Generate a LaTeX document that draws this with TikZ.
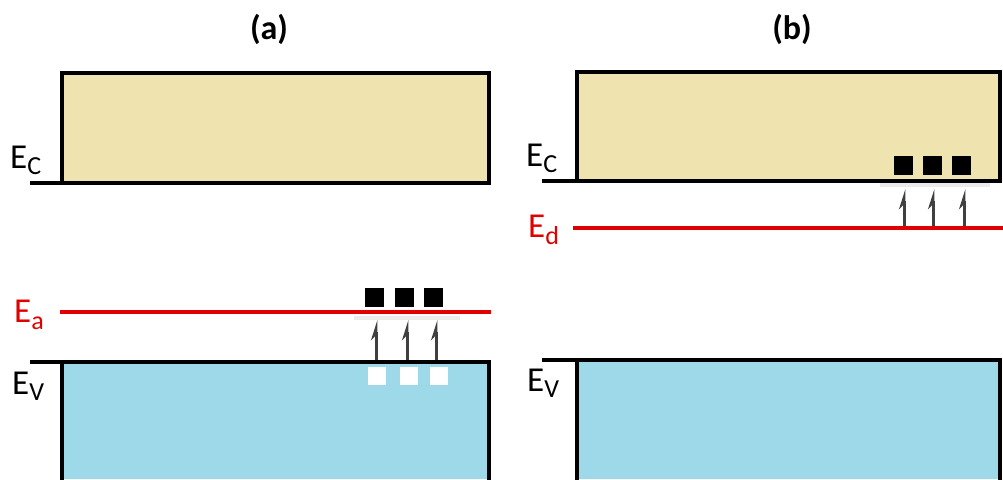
\documentclass[tikz,border=0pt]{standalone}
\usepackage{fontspec}
\setmainfont{Carlito}
\usetikzlibrary{arrows.meta}
\definecolor{cband}{HTML}{EFE3B0}
\definecolor{vband}{HTML}{9DD9E8}
\definecolor{lvl}{HTML}{E00000}
\begin{document}
\begin{tikzpicture}[x=1pt,y=-1pt,
  band/.style={draw=black,line width=4pt},
  edge/.style={draw=black,line width=4pt},
  level/.style={draw=lvl,line width=3.5pt},
  carrier/.style={fill=black,minimum size=19pt,inner sep=0pt},
  hole/.style={fill=white,minimum size=18pt,inner sep=0pt},
  excite/.style={draw=black!75,line width=3pt,-{Stealth[length=16pt,width=10pt,left]}},
  shade/.style={fill=black!8,draw=none},
  lab/.style={font=\fontsize{35}{37}\selectfont, inner sep=0pt},
  tit/.style={font=\bfseries\fontsize{34}{36}\selectfont, inner sep=0pt}]
\useasboundingbox (0,0) rectangle (1003,479);
% panel (a)
\node[tit] (ta) at (269,29) {(a)};
\fill[cband] (62,73) rectangle (489,183);
\draw[band] (62,183) -- (62,73) -- (489,73) -- (489,183);
\coordinate (ca0) at (30,183); \coordinate (ca1) at (491,183);
\draw[edge] (ca0) -- (ca1);
\node[lab,anchor=west] (eca) at (10,160) {E\raisebox{-6pt}{\fontsize{26}{28}\selectfont C}};
\fill[vband] (62,362) rectangle (489,479);
\draw[band] (62,481) -- (62,362) -- (489,362) -- (489,481);
\coordinate (va0) at (30,362); \coordinate (va1) at (491,362);
\draw[edge] (va0) -- (va1);
\node[lab,anchor=west] (eva) at (12,386) {E\raisebox{-6pt}{\fontsize{26}{28}\selectfont V}};
\coordinate (la0) at (60,312); \coordinate (la1) at (491,312);
\draw[level] (la0) -- (la1);
\node[lab,anchor=west,text=lvl] (eaa) at (14,315) {E\raisebox{-7pt}{\fontsize{26}{28}\selectfont a}};
\fill[shade] (354,316) rectangle (460,320);
\node[carrier] (a1) at (374,297) {};
\node[carrier] (a2) at (404,297) {};
\node[carrier] (a3) at (433,297) {};
\node[hole] (h1) at (377,376) {};
\node[hole] (h2) at (409,376) {};
\node[hole] (h3) at (439,376) {};
\coordinate (p1) at (376,360); \coordinate (q1) at (376,320);
\coordinate (p2) at (407,360); \coordinate (q2) at (407,320);
\coordinate (p3) at (436,360); \coordinate (q3) at (436,320);
\draw[excite] (p1) -- (q1);
\draw[excite] (p2) -- (q2);
\draw[excite] (p3) -- (q3);
% panel (b)
\node[tit] (tb) at (792,29) {(b)};
\fill[cband] (577,72) rectangle (1000,181);
\draw[band] (577,181) -- (577,72) -- (1000,72) -- (1000,181);
\coordinate (cb0) at (542,181); \coordinate (cb1) at (1002,181);
\draw[edge] (cb0) -- (cb1);
\node[lab,anchor=west] (ecb) at (526,158) {E\raisebox{-6pt}{\fontsize{26}{28}\selectfont C}};
\fill[vband] (577,360) rectangle (1000,479);
\draw[band] (577,481) -- (577,360) -- (1000,360) -- (1000,481);
\coordinate (vb0) at (542,360); \coordinate (vb1) at (1002,360);
\draw[edge] (vb0) -- (vb1);
\node[lab,anchor=west] (evb) at (527,383) {E\raisebox{-6pt}{\fontsize{26}{28}\selectfont V}};
\coordinate (lb0) at (573,228); \coordinate (lb1) at (1003,228);
\draw[level] (lb0) -- (lb1);
\node[lab,anchor=west,text=lvl] (edb) at (528,230) {E\raisebox{-7pt}{\fontsize{26}{28}\selectfont d}};
\fill[shade] (880,183) rectangle (990,187);
\node[carrier] (b1) at (903,165) {};
\node[carrier] (b2) at (932,165) {};
\node[carrier] (b3) at (961,165) {};
\coordinate (r1) at (904,226); \coordinate (s1) at (904,189);
\coordinate (r2) at (933,226); \coordinate (s2) at (933,189);
\coordinate (r3) at (964,226); \coordinate (s3) at (964,189);
\draw[excite] (r1) -- (s1);
\draw[excite] (r2) -- (s2);
\draw[excite] (r3) -- (s3);
\end{tikzpicture}
\end{document}
